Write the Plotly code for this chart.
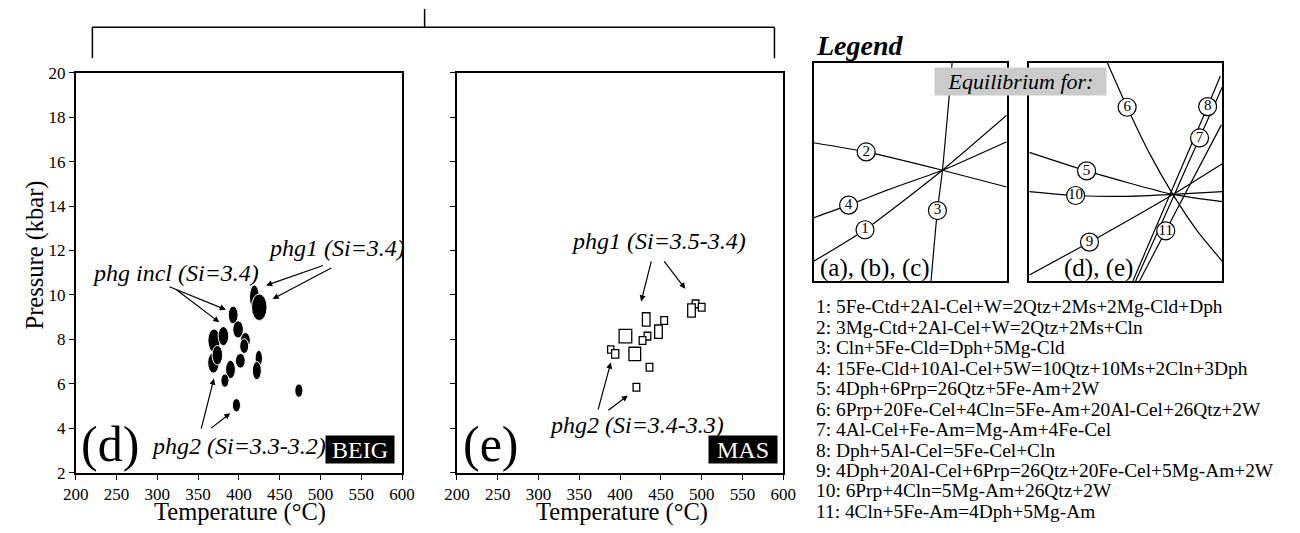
import plotly.graph_objects as go

FONT = "Liberation Serif, Times New Roman, serif"
W, H = 1300, 533

# ---------------- data ----------------
# Panel (d) BEIG: phengite P-T estimates (T in °C, P in kbar) with uncertainty extents
beig_T = [419, 425, 393, 399, 369.5, 381, 408, 406.5, 368.8, 373.6, 401.8, 424.4, 422, 389.7, 382.9, 473.5, 397]
beig_P = [9.9, 9.45, 9.1, 8.45, 7.95, 8.15, 7.95, 7.7, 6.95, 7.29, 7.04, 7.15, 6.6, 6.65, 6.15, 5.7, 5.04]
beig_dT = [12, 19, 12, 13, 15, 13, 12, 11, 14, 13, 12, 9, 11, 12, 10, 10, 10]
beig_dP = [1.1, 1.2, 0.8, 0.78, 1.05, 0.86, 0.72, 0.66, 0.93, 0.88, 0.66, 0.72, 0.82, 0.82, 0.6, 0.6, 0.6]

# Panel (e) MAS
mas_T = [492.5, 487.5, 500, 432, 454, 406.5, 447, 433.5, 427.5, 388.5, 394, 418, 436, 420]
mas_P = [9.6, 9.3, 9.45, 8.9, 8.85, 8.15, 8.35, 8.15, 7.95, 7.55, 7.35, 7.35, 6.75, 5.85]
mas_dT = [8.2, 9.3, 8.2, 9.3, 8.2, 15.5, 9.3, 8.2, 8.2, 7.7, 8.8, 14.3, 8.2, 8.2]
mas_dP = [0.35, 0.6, 0.35, 0.6, 0.35, 0.6, 0.6, 0.35, 0.35, 0.33, 0.38, 0.6, 0.35, 0.35]

temp_ticks = [200, 250, 300, 350, 400, 450, 500, 550, 600]
pres_ticks = [2, 4, 6, 8, 10, 12, 14, 16, 18, 20]

# Schematic legend grids (normalised box coordinates)
grid_abc = {
    "1": ([0, 0.266, 0.667, 1], [0.09, 0.235, 0.508, 0.76]),
    "2": ([0, 0.272, 0.667, 1], [0.634, 0.592, 0.508, 0.431]),
    "3": ([0.608, 0.641, 0.667, 0.717], [0, 0.323, 0.508, 1]),
    "4": ([0, 0.181, 0.387, 0.667, 1], [0.29, 0.348, 0.419, 0.508, 0.639]),
}
label_abc = {"1": (0.266, 0.235), "2": (0.272, 0.592), "3": (0.641, 0.323), "4": (0.181, 0.348)}

grid_de = {
    "5": ([0, 0.297, 0.744, 1], [0.59, 0.505, 0.397, 0.364]),
    "6": ([0.405, 0.507, 0.62, 0.744, 0.87, 1], [1, 0.797, 0.59, 0.397, 0.23, 0.09]),
    "7": ([0.551, 0.752, 0.882, 1], [0, 0.397, 0.656, 0.89]),
    "8": ([0.537, 0.729, 0.924, 0.99], [0, 0.397, 0.8, 0.94]),
    "9": ([0, 0.312, 0.744, 1], [0.027, 0.178, 0.397, 0.538]),
    "10": ([0, 0.24, 0.5, 0.744, 1], [0.41, 0.392, 0.388, 0.397, 0.41]),
    "11": ([0.571, 0.707, 0.995], [0, 0.23, 0.716]),
}
label_de = {"5": (0.297, 0.505), "6": (0.507, 0.797), "7": (0.882, 0.656), "8": (0.924, 0.8),
            "9": (0.312, 0.178), "10": (0.24, 0.392), "11": (0.707, 0.23)}

reactions = [
    "1: 5Fe-Ctd+2Al-Cel+W=2Qtz+2Ms+2Mg-Cld+Dph",
    "2: 3Mg-Ctd+2Al-Cel+W=2Qtz+2Ms+Cln",
    "3: Cln+5Fe-Cld=Dph+5Mg-Cld",
    "4: 15Fe-Cld+10Al-Cel+5W=10Qtz+10Ms+2Cln+3Dph",
    "5: 4Dph+6Prp=26Qtz+5Fe-Am+2W",
    "6: 6Prp+20Fe-Cel+4Cln=5Fe-Am+20Al-Cel+26Qtz+2W",
    "7: 4Al-Cel+Fe-Am=Mg-Am+4Fe-Cel",
    "8: Dph+5Al-Cel=5Fe-Cel+Cln",
    "9: 4Dph+20Al-Cel+6Prp=26Qtz+20Fe-Cel+5Mg-Am+2W",
    "10: 6Prp+4Cln=5Mg-Am+26Qtz+2W",
    "11: 4Cln+5Fe-Am=4Dph+5Mg-Am",
]

# ---------------- figure ----------------
def px(x):
    return x / W

def py(y):
    return 1 - y / H

fig = go.Figure()
fig.add_trace(go.Scatter(x=[None], y=[None], xaxis="x", yaxis="y", showlegend=False))
fig.add_trace(go.Scatter(x=[None], y=[None], xaxis="x2", yaxis="y2", showlegend=False))

for key, (xs, ys) in grid_abc.items():
    fig.add_trace(go.Scatter(x=xs, y=ys, xaxis="x3", yaxis="y3", mode="lines",
                             line=dict(color="black", width=1.2, shape="spline", smoothing=0.6),
                             showlegend=False, hoverinfo="skip"))
for key, (xs, ys) in grid_de.items():
    fig.add_trace(go.Scatter(x=xs, y=ys, xaxis="x4", yaxis="y4", mode="lines",
                             line=dict(color="black", width=1.2, shape="spline", smoothing=0.6),
                             showlegend=False, hoverinfo="skip"))

circ = dict(symbol="circle", size=18, color="white", line=dict(color="black", width=1.2))
fig.add_trace(go.Scatter(
    x=[v[0] for v in label_abc.values()], y=[v[1] for v in label_abc.values()],
    text=list(label_abc.keys()), xaxis="x3", yaxis="y3", mode="markers+text", marker=circ,
    textfont=dict(family=FONT, size=15, color="black"), textposition="middle center",
    showlegend=False, hoverinfo="skip"))
fig.add_trace(go.Scatter(
    x=[v[0] for v in label_de.values()], y=[v[1] for v in label_de.values()],
    text=list(label_de.keys()), xaxis="x4", yaxis="y4", mode="markers+text", marker=circ,
    textfont=dict(family=FONT, size=15, color="black"), textposition="middle center",
    showlegend=False, hoverinfo="skip"))

shapes = []
for t, p, dt, dp in zip(beig_T, beig_P, beig_dT, beig_dP):
    shapes.append(dict(type="circle", xref="x", yref="y",
                       x0=t - dt / 2, x1=t + dt / 2, y0=p - dp / 2, y1=p + dp / 2,
                       fillcolor="black", line=dict(color="white", width=1)))
for t, p, dt, dp in zip(mas_T, mas_P, mas_dT, mas_dP):
    shapes.append(dict(type="rect", xref="x2", yref="y2",
                       x0=t - dt / 2, x1=t + dt / 2, y0=p - dp / 2, y1=p + dp / 2,
                       fillcolor="white", line=dict(color="black", width=1.3)))

# top bracket joining both panels
bk = dict(type="line", xref="paper", yref="paper", line=dict(color="black", width=1.5))
shapes.append(dict(bk, x0=px(81), x1=px(777), y0=py(19), y1=py(19)))
shapes.append(dict(bk, x0=px(420), x1=px(420), y0=py(0), y1=py(19)))
shapes.append(dict(bk, x0=px(81), x1=px(81), y0=py(19), y1=py(51)))
shapes.append(dict(bk, x0=px(777), x1=px(777), y0=py(19), y1=py(51)))

ann = []

def arrow(xr, yr, head, tail):
    ann.append(dict(xref=xr, yref=yr, axref=xr, ayref=yr, x=head[0], y=head[1],
                    ax=tail[0], ay=tail[1], text="", showarrow=True,
                    arrowhead=2, arrowsize=1, arrowwidth=1.2, arrowcolor="black"))

def label(xr, yr, x, y, text, size=24, color="black", **kw):
    d = dict(xref=xr, yref=yr, x=x, y=y, text=text, showarrow=False,
             xanchor="center", yanchor="middle",
             font=dict(family=FONT, size=size, color=color))
    d.update(kw)
    ann.append(d)

# panel d annotations
label("x", "y", 322, 11.0, "<i>phg incl (Si=3.4)</i>")
arrow("x", "y", (384, 9.34), (313, 10.4))
arrow("x", "y", (376, 8.77), (322, 10.28))
label("x", "y", 520, 12.1, "<i>phg1 (Si=3.4)</i>")
arrow("x", "y", (433.4, 10.43), (505, 11.35))
arrow("x", "y", (441.4, 9.82), (515, 11.25))
label("x", "y", 400, 3.2, "<i>phg2 (Si=3.3-3.2)</i>")
arrow("x", "y", (369.4, 6.24), (353.4, 3.92))
arrow("x", "y", (389.4, 4.68), (364.2, 3.96))
label("x", "y", 242, 3.3, "(d)", size=50)
label("x", "y", 591, 3.05, "BEIG", size=24, color="white", xanchor="right",
      bgcolor="black", width=68, height=27, borderpad=0)

# panel e annotations
label("x2", "y2", 447, 12.45, "<i>phg1 (Si=3.5-3.4)</i>")
arrow("x2", "y2", (425.8, 9.71), (438.7, 11.58))
arrow("x2", "y2", (479.9, 10.28), (452.6, 11.58))
label("x2", "y2", 420, 4.15, "<i>phg2 (Si=3.4-3.3)</i>")
arrow("x2", "y2", (388.6, 6.96), (372.6, 4.79))
arrow("x2", "y2", (409.4, 5.48), (383.8, 4.76))
label("x2", "y2", 242, 3.3, "(e)", size=50)
label("x2", "y2", 593, 3.05, "MAS", size=24, color="white", xanchor="right",
      bgcolor="black", width=68, height=27, borderpad=0)

# axis titles
label("paper", "paper", px(232), py(522), "Temperature (°C)", size=24.5)
label("paper", "paper", px(621), py(522), "Temperature (°C)", size=24.5)
label("paper", "paper", px(22), py(255), "Pressure (kbar)", size=24.5, textangle=-90)

# legend
label("paper", "paper", px(817), py(38), "<b><i>Legend</i></b>", size=28, xanchor="left")
label("paper", "paper", px(1028.5), py(75.5), "<i>Equilibrium for:</i>", size=22,
      bgcolor="#cbcbcb", width=171, height=27, borderpad=0)
label("x3", "y3", 0.02, 0.06, "(a), (b), (c)", size=25, xanchor="left")
label("x4", "y4", 0.17, 0.06, "(d), (e)", size=25, xanchor="left")

for i, r in enumerate(reactions):
    label("paper", "paper", px(817), py(309 + i * 21.2), r, size=19.4, xanchor="left")

axis_common = dict(showgrid=False, zeroline=False, showline=True, linecolor="black",
                   linewidth=1.5, mirror=True, ticks="outside", ticklen=5, tickwidth=1.2,
                   tickcolor="black", tickfont=dict(family=FONT, size=17, color="black"))
box_common = dict(showgrid=False, zeroline=False, showline=True, linecolor="black",
                  linewidth=1.5, mirror=True, showticklabels=False, ticks="",
                  range=[0, 1], fixedrange=True)

yd = [py(481), py(66)]
fig.update_layout(
    width=W, height=H, margin=dict(l=0, r=0, t=0, b=0),
    paper_bgcolor="white", plot_bgcolor="white", showlegend=False,
    xaxis=dict(axis_common, domain=[px(64), px(397)], range=[200, 600], tickvals=temp_ticks, anchor="y"),
    yaxis=dict(axis_common, domain=yd, range=[2, 20], tickvals=pres_ticks, anchor="x"),
    xaxis2=dict(axis_common, domain=[px(453), px(786)], range=[200, 600], tickvals=temp_ticks, anchor="y2"),
    yaxis2=dict(axis_common, domain=yd, range=[2, 20], tickvals=pres_ticks, showticklabels=False, anchor="x2"),
    xaxis3=dict(box_common, domain=[px(817), px(1014)], anchor="y3"),
    yaxis3=dict(box_common, domain=[py(282), py(56)], anchor="x3"),
    xaxis4=dict(box_common, domain=[px(1037), px(1234)], anchor="y4"),
    yaxis4=dict(box_common, domain=[py(282), py(56)], anchor="x4"),
    shapes=shapes, annotations=ann,
)

fig.write_html("out.html")
